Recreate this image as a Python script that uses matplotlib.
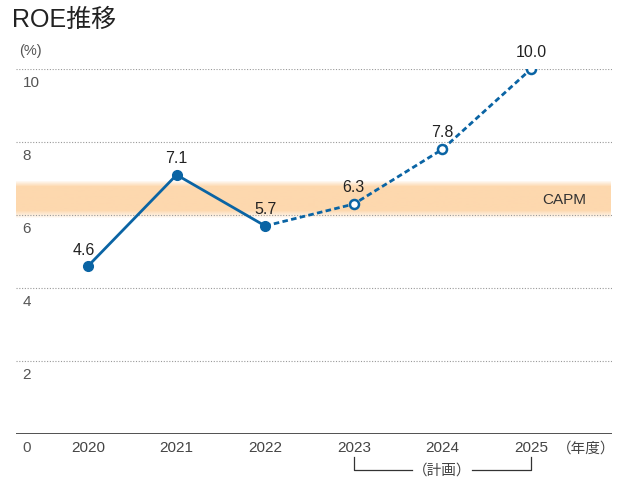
import numpy as np
import matplotlib.pyplot as plt
from matplotlib.colors import LinearSegmentedColormap

plt.rcParams['font.family'] = ['Liberation Sans', 'Noto Sans CJK JP', 'DejaVu Sans']

years = [2020, 2021, 2022, 2023, 2024, 2025]
roe = [4.6, 7.1, 5.7, 6.3, 7.8, 10.0]
labels = ['4.6', '7.1', '5.7', '6.3', '7.8', '10.0']
actual = 3  # 2020-2022 actual, then plan
capm_low, capm_high = 6.0, 6.8
yticks = [2, 4, 6, 8, 10]

blue = '#0a64a4'

fig = plt.figure(figsize=(6.2, 4.83), dpi=100)
ax = fig.add_axes([16 / 620, 49 / 483, 596 / 620, 365 / 483])
x0, x1 = 2020 - 72 / 88.6, 2020 + 524 / 88.6
ax.set_xlim(x0, x1)
ax.set_ylim(0, 10)
ax.axis('off')

# CAPM band with soft edges
grad = np.concatenate([np.linspace(0, 1, 8), np.ones(20), np.linspace(1, 0, 6)])
cmap = LinearSegmentedColormap.from_list('b', ['#ffffff', '#fdd8ae'])
ax.imshow(grad[:, None], extent=[x0, x1 - 0.02, capm_low - 0.1, capm_high + 0.15],
          aspect='auto', cmap=cmap, origin='lower', zorder=0)
ax.text(2025.37, 6.4, 'CAPM', ha='center', va='center', fontsize=11, color='#333333')

for t in yticks:
    ax.axhline(t, color='#999999', lw=0.8, ls=(0, (1, 1.5)), zorder=1)
    ax.text(2019.26, t - 0.2, str(t), ha='left', va='top', fontsize=11, color='#555555')
ax.axhline(0, color='#333333', lw=1.2, zorder=1)
ax.text(2019.26, -0.2, '0', ha='left', va='top', fontsize=11, color='#555555')
ax.text(2019.22, 10.3, '(%)', ha='left', va='bottom', fontsize=10.5, color='#555555')

for y in years:
    ax.text(y, -0.2, str(y), ha='center', va='top', fontsize=11, color='#444444')
ax.text(2025.62, -0.2, '（年度）', ha='center', va='top', fontsize=10.5, color='#444444')

# lines
ax.plot(years[:actual], roe[:actual], color=blue, lw=2, zorder=3)
ax.plot(years[actual - 1:], roe[actual - 1:], color=blue, lw=2, ls=(0, (2, 1.2)), zorder=3)
ax.plot(years[:actual], roe[:actual], 'o', color=blue, ms=7, zorder=4)
ax.plot(years[actual:], roe[actual:], 'o', mfc='white', mec=blue, mew=1.8, ms=6.5, zorder=4)

offsets = [(-0.05, 0.22), (0, 0.25), (0, 0.25), (0, 0.25), (0, 0.25), (0, 0.25)]
for y, v, lab, (dx, dy) in zip(years, roe, labels, offsets):
    ax.text(y + dx, v + dy, lab, ha='center', va='bottom', fontsize=11.5, color='#222222')

# plan bracket
yb = -0.99
ax.plot([2023, 2023, 2023.66], [-0.63, yb, yb], color='#333333', lw=0.9, clip_on=False)
ax.plot([2024.33, 2025, 2025], [yb, yb, -0.63], color='#333333', lw=0.9, clip_on=False)
ax.text(2024, yb, '（計画）', ha='center', va='center', fontsize=10.5, color='#444444')

fig.text(12 / 620, 1 - 20 / 483, 'ROE推移', ha='left', va='center', fontsize=18, color='#222222')

fig.savefig('out.png', dpi=100)
